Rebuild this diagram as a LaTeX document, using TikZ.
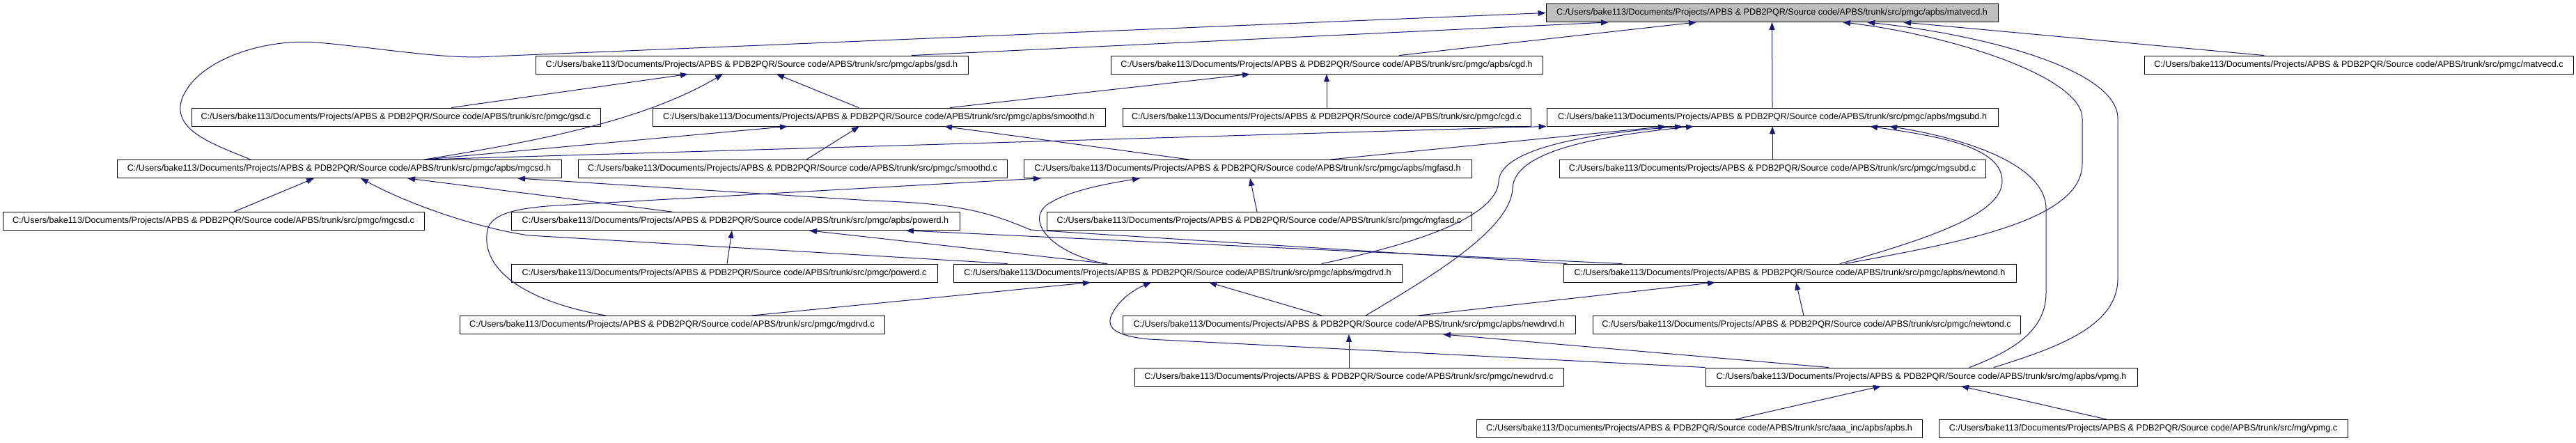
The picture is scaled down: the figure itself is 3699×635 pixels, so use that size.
\documentclass[tikz,border=0pt]{standalone}
\usepackage{fontspec}
\setmainfont{Liberation Sans}
\usetikzlibrary{arrows.meta}
\definecolor{edgeblue}{HTML}{191970}
\definecolor{topgray}{HTML}{BFBFBF}
\newcommand\mypath{C:/Users/bake113/Documents/Projects/APBS \& PDB2PQR/Source code/APBS/trunk/src/}
\tikzset{
  filebox/.style={draw=black, line width=0.9pt, fill=white, minimum height=26pt, inner xsep=4pt, inner ysep=2pt,
    font=\fontsize{12.6}{14}\selectfont, anchor=center},
  dep/.style={draw=edgeblue, line width=1pt, -{Triangle[length=11pt,width=8pt]}, color=edgeblue},
}
\begin{document}
\begin{tikzpicture}[x=1pt,y=-1pt]
\useasboundingbox (0,0) rectangle (3699,635);
% row 1
\node[filebox, fill=topgray, minimum width=649pt] (matvecd_h) at (2544.5,18.5) {\mypath pmgc/apbs/matvecd.h};
% row 2
\node[filebox, minimum width=621pt] (gsd_h) at (1079.5,93) {\mypath pmgc/apbs/gsd.h};
\node[filebox, minimum width=620pt] (cgd_h) at (1905,93) {\mypath pmgc/apbs/cgd.h};
\node[filebox, minimum width=616pt] (matvecd_c) at (3387,93) {\mypath pmgc/matvecd.c};
% row 3
\node[filebox, minimum width=587pt] (gsd_c) at (568.5,168) {\mypath pmgc/gsd.c};
\node[filebox, minimum width=650pt] (smoothd_h) at (1262,168) {\mypath pmgc/apbs/smoothd.h};
\node[filebox, minimum width=586pt] (cgd_c) at (1905,168) {\mypath pmgc/cgd.c};
\node[filebox, minimum width=648pt] (mgsubd_h) at (2545,168) {\mypath pmgc/apbs/mgsubd.h};
% row 4
\node[filebox, minimum width=638pt] (mgcsd_h) at (487,242.5) {\mypath pmgc/apbs/mgcsd.h};
\node[filebox, minimum width=616pt] (smoothd_c) at (1138,242.5) {\mypath pmgc/smoothd.c};
\node[filebox, minimum width=643pt] (mgfasd_h) at (1791.5,242.5) {\mypath pmgc/apbs/mgfasd.h};
\node[filebox, minimum width=612pt] (mgsubd_c) at (2545,242.5) {\mypath pmgc/mgsubd.c};
% row 5
\node[filebox, minimum width=605pt] (mgcsd_c) at (306.5,317.5) {\mypath pmgc/mgcsd.c};
\node[filebox, minimum width=644pt] (powerd_h) at (1056,317.5) {\mypath pmgc/apbs/powerd.h};
\node[filebox, minimum width=610pt] (mgfasd_c) at (1808,317.5) {\mypath pmgc/mgfasd.c};
% row 6
\node[filebox, minimum width=612pt] (powerd_c) at (1040,392) {\mypath pmgc/powerd.c};
\node[filebox, minimum width=644pt] (mgdrvd_h) at (1691,392) {\mypath pmgc/apbs/mgdrvd.h};
\node[filebox, minimum width=650pt] (newtond_h) at (2570,392) {\mypath pmgc/apbs/newtond.h};
% row 7
\node[filebox, minimum width=610pt] (mgdrvd_c) at (965,466.5) {\mypath pmgc/mgdrvd.c};
\node[filebox, minimum width=650pt] (newdrvd_h) at (1937,466.5) {\mypath pmgc/apbs/newdrvd.h};
\node[filebox, minimum width=614pt] (newtond_c) at (2594,466.5) {\mypath pmgc/newtond.c};
% row 8
\node[filebox, minimum width=616pt] (newdrvd_c) at (1937,541) {\mypath pmgc/newdrvd.c};
\node[filebox, minimum width=620pt] (vpmg_h) at (2759,541) {\mypath mg/apbs/vpmg.h};
% row 9
\node[filebox, minimum width=640pt] (apbs_h) at (2440,615.5) {\mypath aaa\_inc/apbs/apbs.h};
\node[filebox, minimum width=587pt] (vpmg_c) at (3077.5,615.5) {\mypath mg/vpmg.c};

% edges to matvecd.h
\draw[dep] ([xshift=229.5pt]gsd_h.north) -- ([xshift=-234.5pt]matvecd_h.south);
\draw[dep] ([xshift=104pt]cgd_h.north) -- ([xshift=-108.5pt]matvecd_h.south);
\draw[dep] ([xshift=-127pt]mgcsd_h.north) .. controls (300,205) and (245,185) .. (262,140)
  .. controls (285,85) and (380,55) .. (455,61) .. controls (540,68) and (640,86) .. (705,81) -- (matvecd_h.west);
\draw[dep] (mgsubd_h.north) -- (matvecd_h.south);
\draw[dep] ([xshift=-136pt]matvecd_c.north) -- ([xshift=188.5pt]matvecd_h.south);
\draw[dep] ([xshift=80pt]newtond_h.north) .. controls (2800,350) and (2990,320) .. (2990,235) -- (2990,170)
  .. controls (2990,110) and (2800,50) .. ([xshift=101.5pt]matvecd_h.south);
\draw[dep] ([xshift=104pt]vpmg_h.north) .. controls (2950,500) and (3041,470) .. (3041,400) -- (3041,170)
  .. controls (3041,100) and (2850,50) .. ([xshift=136.5pt]matvecd_h.south);
% gsd.h
\draw[dep] ([xshift=79.5pt]gsd_c.north) -- ([xshift=-91.5pt]gsd_h.south);
\draw[dep] ([xshift=122pt]mgcsd_h.north) .. controls (790,200) and (930,170) .. ([xshift=-41.5pt]gsd_h.south);
\draw[dep] ([xshift=-29pt]smoothd_h.north) -- ([xshift=35.5pt]gsd_h.south);
% cgd.h
\draw[dep] ([xshift=102pt]smoothd_h.north) -- ([xshift=-110pt]cgd_h.south);
\draw[dep] (cgd_c.north) -- (cgd_h.south);
% smoothd.h
\draw[dep] ([xshift=122pt]mgcsd_h.north) -- ([xshift=-131pt]smoothd_h.south);
\draw[dep] ([xshift=20pt]smoothd_c.north) -- ([xshift=-28pt]smoothd_h.south);
\draw[dep] ([xshift=-83.5pt]mgfasd_h.north) -- ([xshift=94pt]smoothd_h.south);
% mgsubd.h
\draw[dep] ([xshift=122pt]mgcsd_h.north) -- (mgsubd_h.south west);
\draw[dep] ([xshift=118.5pt]mgfasd_h.north) -- ([xshift=-153pt]mgsubd_h.south);
\draw[dep] (mgsubd_c.north) -- (mgsubd_h.south);
\draw[dep] ([xshift=207pt]mgdrvd_h.north) .. controls (2080,340) and (2150,300) .. (2152,260)
  .. controls (2155,210) and (2300,190) .. ([xshift=-129pt]mgsubd_h.south);
\draw[dep] ([xshift=24pt]newdrvd_h.north) .. controls (2050,400) and (2170,330) .. (2172,270)
  .. controls (2175,215) and (2300,195) .. ([xshift=-113pt]mgsubd_h.south);
\draw[dep] ([xshift=72pt]newtond_h.north) .. controls (2780,340) and (2875,305) .. (2875,260)
  .. controls (2875,210) and (2780,195) .. ([xshift=140pt]mgsubd_h.south);
\draw[dep] ([xshift=69pt]vpmg_h.north) .. controls (2900,500) and (2938,470) .. (2938,420) -- (2938,300)
  .. controls (2938,230) and (2800,195) .. ([xshift=168pt]mgsubd_h.south);
% mgcsd.h
\draw[dep] ([xshift=29.5pt]mgcsd_c.north) -- ([xshift=-36pt]mgcsd_h.south);
\draw[dep] ([xshift=-244pt]mgdrvd_h.north) -- (760,338) .. controls (700,330) and (600,300) .. ([xshift=31pt]mgcsd_h.south);
\draw[dep] ([xshift=-91pt]powerd_h.north) -- ([xshift=98pt]mgcsd_h.south);
\draw[dep] ([xshift=-320pt]newtond_h.north) -- (1480,330) .. controls (1420,305) and (1380,292) .. (1250,288) -- ([xshift=256pt]mgcsd_h.south);
% mgfasd.h
\draw[dep] ([xshift=-3pt]mgfasd_c.north) -- ([xshift=3.5pt]mgfasd_h.south);
\draw[dep] ([xshift=-95pt]mgdrvd_c.north) .. controls (740,430) and (690,380) .. (700,330)
  .. controls (705,305) and (750,298) .. (800,295) -- ([xshift=-296.5pt]mgfasd_h.south);
\draw[dep] ([xshift=-105pt]mgdrvd_h.north) .. controls (1500,360) and (1470,310) .. (1510,290)
  .. controls (1540,272) and (1600,262) .. ([xshift=-154.5pt]mgfasd_h.south);
% powerd.h
\draw[dep] ([xshift=4pt]powerd_c.north) -- ([xshift=-5pt]powerd_h.south);
\draw[dep] ([xshift=-101pt]mgdrvd_h.north) -- ([xshift=106pt]powerd_h.south);
\draw[dep] ([xshift=-241pt]newtond_h.north) -- ([xshift=245pt]powerd_h.south);
% mgdrvd.h
\draw[dep] ([xshift=114pt]mgdrvd_c.north) -- ([xshift=-125pt]mgdrvd_h.south);
\draw[dep] ([xshift=-39pt]newdrvd_h.north) -- ([xshift=45pt]mgdrvd_h.south);
\draw[dep] (vpmg_h.north west) -- (1650,487) .. controls (1600,482) and (1590,470) .. (1595,455)
  .. controls (1605,430) and (1630,415) .. ([xshift=-38pt]mgdrvd_h.south);
% newtond.h
\draw[dep] ([xshift=99pt]newdrvd_h.north) -- ([xshift=-107pt]newtond_h.south);
\draw[dep] ([xshift=-4pt]newtond_c.north) -- ([xshift=9pt]newtond_h.south);
% newdrvd.h
\draw[dep] (newdrvd_c.north) -- (newdrvd_h.south);
\draw[dep] ([xshift=-133pt]vpmg_h.north) -- ([xshift=135pt]newdrvd_h.south);
% vpmg.h
\draw[dep] ([xshift=52pt]apbs_h.north) -- ([xshift=-58pt]vpmg_h.south);
\draw[dep] ([xshift=-52.5pt]vpmg_c.north) -- ([xshift=57pt]vpmg_h.south);
\end{tikzpicture}
\end{document}
